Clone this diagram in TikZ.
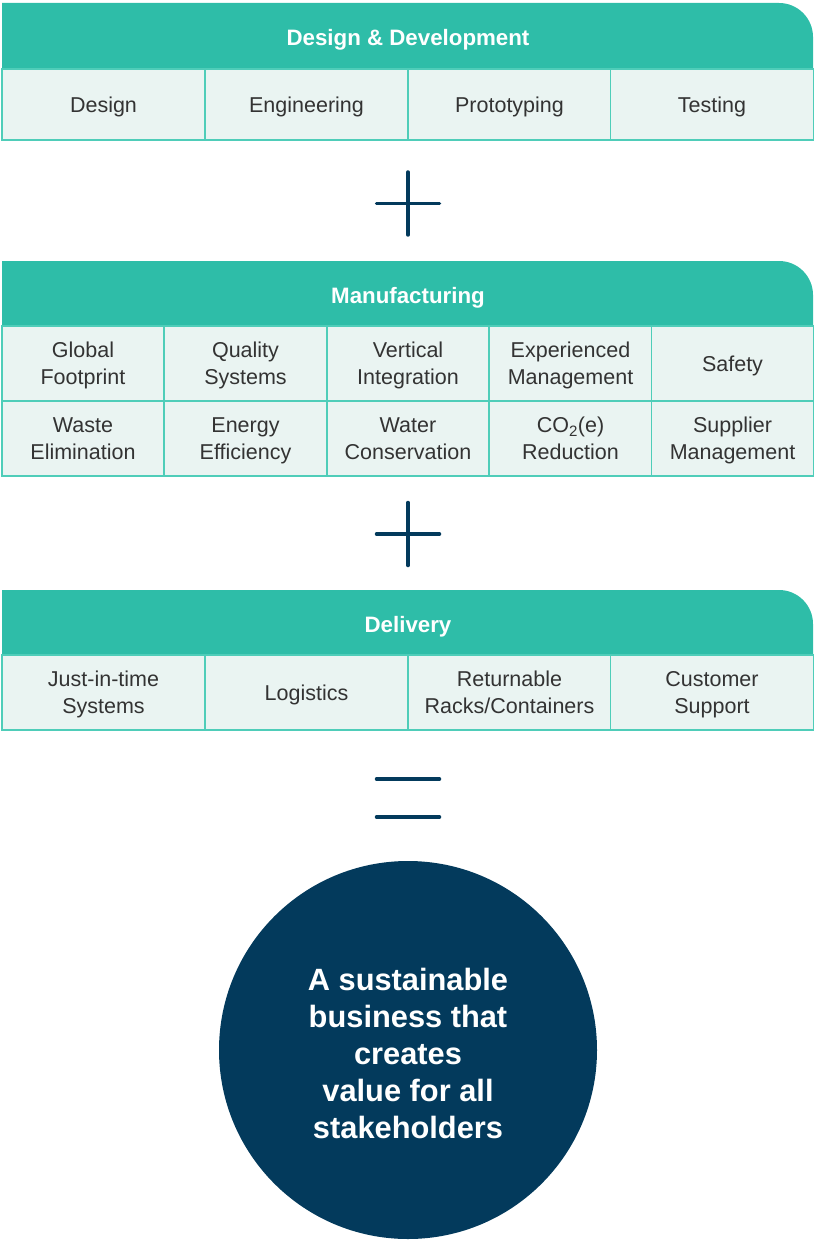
\documentclass[tikz,border=0pt]{standalone}
\usepackage{fontspec}
\setmainfont{Liberation Sans}
\usepackage{xcolor}
\usetikzlibrary{positioning}
\definecolor{headteal}{RGB}{46,189,168}
\definecolor{cellfill}{RGB}{234,244,242}
\definecolor{cellline}{RGB}{79,205,185}
\definecolor{navyblue}{RGB}{3,58,92}
\definecolor{celltext}{RGB}{51,51,51}

\begin{document}
\begin{tikzpicture}[x=1pt,y=-1pt,
	headbar/.style={fill=headteal},
	headtext/.style={text=white,text depth=0pt,font=\bfseries\fontsize{22.3}{26}\selectfont},
	cellbox/.style={draw=cellline,line width=1.5pt,fill=cellfill,inner sep=0pt,text depth=-3.5pt,
		text=celltext,align=center,font=\fontsize{21.5}{27}\selectfont},
	wide/.style={cellbox,minimum width=203pt,minimum height=71pt},
	narrow/.style={cellbox,minimum width=162.2pt,minimum height=75pt},
	signline/.style={draw=navyblue,line width=3.5pt,line cap=round}]
		\useasboundingbox (0,0) rectangle (814,1241);
		% design & development
		\fill[headbar] (2,69) -- (2,3) -- (779,3) .. controls (797.8,3) and (813,18.2) .. (813,37) -- (813,69) -- cycle;
		\node[headtext] (dd) at (408,37) {Design \& Development};
		\node[wide] (design) at (103.5,104.5) {Design};
		\node[wide] (engineering) at (306.5,104.5) {Engineering};
		\node[wide] (prototyping) at (509.5,104.5) {Prototyping};
		\node[wide] (testing) at (712,104.5) {Testing};
		\coordinate (plusA) at (408,203.5);
		\draw[signline] ([xshift=-31.5pt]plusA) -- ([xshift=31.5pt]plusA);
		\draw[signline] ([yshift=31.5pt]plusA) -- ([yshift=-31.5pt]plusA);
		% manufacturing
		\fill[headbar] (2,326) -- (2,261) -- (779,261) .. controls (797.8,261) and (813,276.2) .. (813,295) -- (813,326) -- cycle;
		\node[headtext] (mf) at (408,295) {Manufacturing};
		\node[narrow] (global) at (83,363.5) {Global\\Footprint};
		\node[narrow] (quality) at (245.5,363.5) {Quality\\Systems};
		\node[narrow] (vertical) at (408,363.5) {Vertical\\Integration};
		\node[narrow] (experienced) at (570.5,363.5) {Experienced\\Management};
		\node[narrow] (safety) at (732.5,363.5) {Safety};
		\node[narrow] (waste) at (83,438.5) {Waste\\Elimination};
		\node[narrow] (energy) at (245.5,438.5) {Energy\\Efficiency};
		\node[narrow] (water) at (408,438.5) {Water\\Conservation};
		\node[narrow] (carbon) at (570.5,438.5) {CO\textsubscript{2}(e)\\Reduction};
		\node[narrow] (supplier) at (732.5,438.5) {Supplier\\Management};
		\coordinate (plusB) at (408,534);
		\draw[signline] ([xshift=-31.5pt]plusB) -- ([xshift=31.5pt]plusB);
		\draw[signline] ([yshift=31.5pt]plusB) -- ([yshift=-31.5pt]plusB);
		% delivery
		\fill[headbar] (2,655) -- (2,590) -- (779,590) .. controls (797.8,590) and (813,605.2) .. (813,624) -- (813,655) -- cycle;
		\node[headtext] (dl) at (408,624) {Delivery};
		\node[wide,minimum height=75pt] (justintime) at (103.5,692.5) {Just-in-time\\Systems};
		\node[wide,minimum height=75pt] (logistics) at (306.5,692.5) {Logistics};
		\node[wide,minimum height=75pt] (returnable) at (509.5,692.5) {Returnable\\Racks/Containers};
		\node[wide,minimum height=75pt] (customer) at (712,692.5) {Customer\\Support};
		% equals
		\draw[signline] (376.5,779) -- (439.5,779);
		\draw[signline] (376.5,817) -- (439.5,817);
		\node[circle,fill=navyblue,minimum size=378pt,inner sep=0pt] (goal) at (408,1050) {};
		\node[text=white,align=center,font=\bfseries\fontsize{30.8}{37}\selectfont] (goaltext)
			at ([yshift=-3.5pt]goal.center)
			{A sustainable\\business that\\creates\\value for all\\stakeholders};
	\end{tikzpicture}
\end{document}
